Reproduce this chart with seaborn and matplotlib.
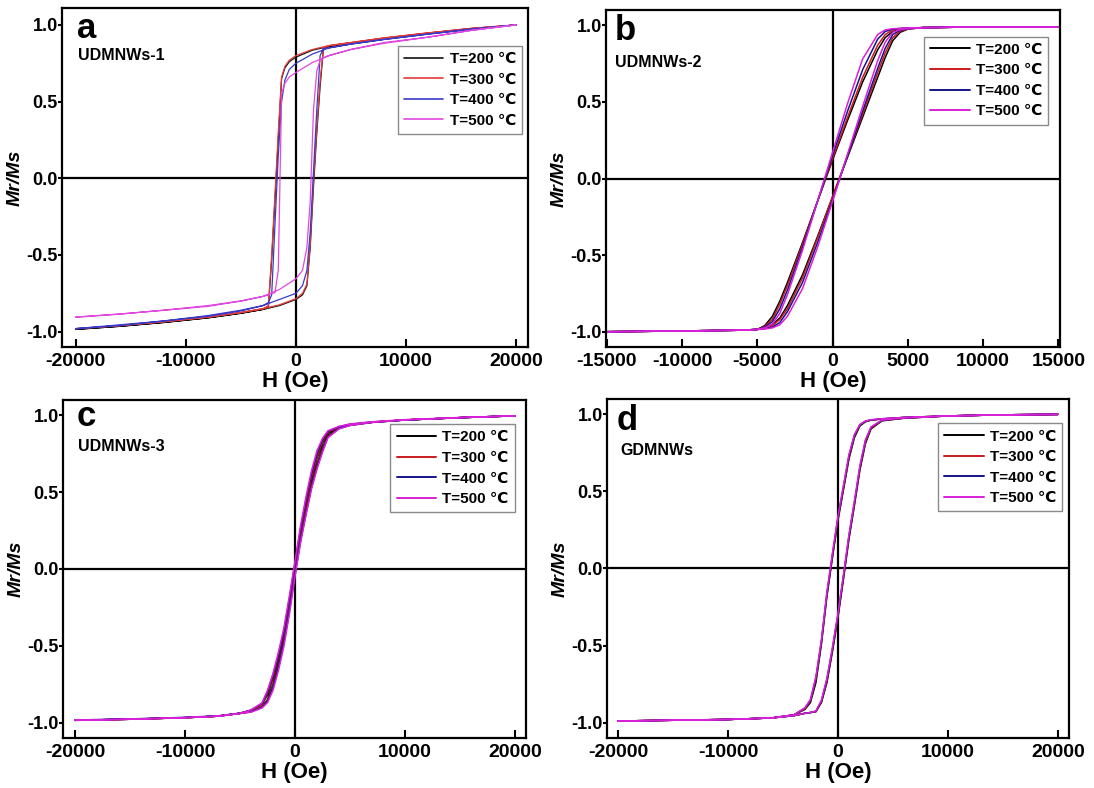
import numpy as np
import pandas as pd
import matplotlib
matplotlib.use("Agg")
import matplotlib.pyplot as plt
import seaborn as sns
from matplotlib.lines import Line2D

# ---------------- data ----------------
temps = ["T=200 ℃", "T=300 ℃", "T=400 ℃", "T=500 ℃"]

# panel a (UDMNWs-1)
H_a_desc = [20000, 16000, 12000, 8000, 5000, 3000, 1500, 0, -600, -1000, -1300,
            -1600, -1900, -2200, -2500, -3000, -5000, -8000, -12000, -16000, -20000]
H_a_asc = [-20000, -16000, -12000, -8000, -5000, -3000, -1500, 0, 600, 1000, 1300,
           1600, 1900, 2200, 2500, 3000, 5000, 8000, 12000, 16000, 20000]
a200_desc = [1.00, 0.975, 0.945, 0.91, 0.88, 0.86, 0.835, 0.79, 0.76, 0.72, 0.65,
             0.26, -0.14, -0.53, -0.84, -0.855, -0.88, -0.91, -0.94, -0.965, -0.985]
a300_desc = [1.00, 0.978, 0.948, 0.915, 0.885, 0.865, 0.84, 0.80, 0.77, 0.73, 0.66,
             0.30, -0.10, -0.50, -0.83, -0.85, -0.875, -0.905, -0.935, -0.96, -0.98]
a400_desc = [1.00, 0.975, 0.94, 0.905, 0.875, 0.85, 0.81, 0.75, 0.71, 0.64, 0.50,
             0.15, -0.30, -0.76, -0.81, -0.83, -0.86, -0.895, -0.93, -0.955, -0.98]
a500_desc = [1.00, 0.965, 0.92, 0.885, 0.84, 0.80, 0.755, 0.69, 0.66, 0.62, 0.55,
             -0.60, -0.745, -0.75, -0.76, -0.77, -0.80, -0.83, -0.86, -0.885, -0.905]
a200_asc = [-0.985, -0.965, -0.94, -0.91, -0.88, -0.855, -0.83, -0.79, -0.76, -0.70, -0.45,
            -0.05, 0.30, 0.60, 0.845, 0.86, 0.88, 0.91, 0.945, 0.975, 1.00]
a300_asc = [-0.98, -0.96, -0.935, -0.905, -0.875, -0.85, -0.825, -0.785, -0.75, -0.69, -0.43,
            -0.02, 0.33, 0.63, 0.85, 0.865, 0.885, 0.915, 0.948, 0.978, 1.00]
a400_asc = [-0.98, -0.96, -0.93, -0.90, -0.865, -0.83, -0.79, -0.75, -0.70, -0.60, -0.35,
            0.05, 0.45, 0.80, 0.845, 0.85, 0.875, 0.905, 0.94, 0.97, 1.00]
a500_asc = [-0.905, -0.885, -0.86, -0.835, -0.80, -0.77, -0.725, -0.655, -0.60, -0.45, -0.15,
            0.45, 0.70, 0.77, 0.785, 0.80, 0.84, 0.88, 0.92, 0.965, 1.00]

# panel b (UDMNWs-2)
H_b = [-15000, -10000, -6000, -5000, -4500, -4000, -3500, -3000, -2000, -1000, 0,
       1000, 2000, 3000, 3500, 4000, 4500, 5000, 6000, 10000, 15000]
b200_desc = [-1.0, -0.995, -0.99, -0.985, -0.96, -0.90, -0.80, -0.68, -0.42, -0.15, 0.12,
             0.38, 0.63, 0.84, 0.92, 0.96, 0.975, 0.98, 0.985, 0.99, 0.99]
b200_asc = [-1.0, -0.995, -0.99, -0.985, -0.975, -0.955, -0.91, -0.83, -0.63, -0.38, -0.12,
            0.14, 0.40, 0.66, 0.79, 0.90, 0.955, 0.975, 0.985, 0.99, 0.99]
b300_desc = [-1.0, -0.995, -0.99, -0.985, -0.965, -0.92, -0.82, -0.70, -0.43, -0.15, 0.13,
             0.40, 0.66, 0.87, 0.94, 0.97, 0.978, 0.982, 0.985, 0.99, 0.99]
b300_asc = [-1.0, -0.995, -0.99, -0.985, -0.978, -0.96, -0.92, -0.85, -0.65, -0.39, -0.12,
            0.15, 0.42, 0.69, 0.82, 0.92, 0.962, 0.977, 0.985, 0.99, 0.99]
b400_desc = [-1.0, -0.995, -0.99, -0.985, -0.97, -0.935, -0.85, -0.73, -0.45, -0.15, 0.15,
             0.44, 0.71, 0.91, 0.96, 0.975, 0.98, 0.982, 0.985, 0.99, 0.99]
b400_asc = [-1.0, -0.995, -0.99, -0.985, -0.98, -0.97, -0.94, -0.87, -0.68, -0.42, -0.14,
            0.15, 0.44, 0.72, 0.85, 0.94, 0.968, 0.978, 0.985, 0.99, 0.99]
b500_desc = [-1.0, -0.995, -0.99, -0.985, -0.975, -0.95, -0.88, -0.76, -0.47, -0.15, 0.17,
             0.49, 0.78, 0.94, 0.97, 0.978, 0.98, 0.983, 0.985, 0.99, 0.99]
b500_asc = [-1.0, -0.995, -0.99, -0.985, -0.982, -0.975, -0.955, -0.90, -0.72, -0.45, -0.15,
            0.16, 0.47, 0.77, 0.89, 0.955, 0.972, 0.978, 0.985, 0.99, 0.99]

# panel c (UDMNWs-3)
H_c = [-20000, -15000, -10000, -7000, -5000, -4000, -3000, -2500, -2000, -1500, -1000, -500, 0,
       500, 1000, 1500, 2000, 2500, 3000, 4000, 5000, 7000, 10000, 15000, 20000]
c200_desc = [-0.985, -0.978, -0.968, -0.958, -0.94, -0.92, -0.88, -0.82, -0.71, -0.58, -0.42, -0.21, 0.02,
             0.24, 0.42, 0.59, 0.72, 0.82, 0.885, 0.922, 0.94, 0.955, 0.97, 0.985, 0.997]
c200_asc = [-0.985, -0.978, -0.968, -0.958, -0.94, -0.928, -0.895, -0.85, -0.75, -0.62, -0.46, -0.25, -0.02,
            0.20, 0.38, 0.55, 0.68, 0.79, 0.87, 0.918, 0.936, 0.955, 0.97, 0.985, 0.997]
c300_desc = [-0.985, -0.978, -0.968, -0.958, -0.94, -0.92, -0.88, -0.81, -0.70, -0.57, -0.41, -0.20, 0.03,
             0.25, 0.43, 0.60, 0.73, 0.83, 0.89, 0.924, 0.94, 0.956, 0.97, 0.985, 0.997]
c300_asc = [-0.985, -0.978, -0.968, -0.958, -0.94, -0.928, -0.895, -0.855, -0.76, -0.63, -0.47, -0.26, -0.03,
            0.19, 0.37, 0.54, 0.67, 0.78, 0.865, 0.916, 0.936, 0.955, 0.97, 0.985, 0.997]
c400_desc = [-0.983, -0.976, -0.966, -0.956, -0.938, -0.918, -0.875, -0.80, -0.69, -0.56, -0.40, -0.19, 0.04,
             0.26, 0.45, 0.62, 0.75, 0.84, 0.895, 0.926, 0.942, 0.957, 0.97, 0.985, 0.997]
c400_asc = [-0.985, -0.978, -0.968, -0.958, -0.94, -0.93, -0.90, -0.86, -0.77, -0.64, -0.48, -0.27, -0.04,
            0.18, 0.36, 0.53, 0.66, 0.77, 0.86, 0.914, 0.935, 0.954, 0.97, 0.985, 0.997]
c500_desc = [-0.985, -0.978, -0.968, -0.958, -0.94, -0.918, -0.872, -0.79, -0.68, -0.54, -0.38, -0.17, 0.05,
             0.28, 0.47, 0.64, 0.77, 0.85, 0.90, 0.928, 0.944, 0.958, 0.972, 0.986, 0.997]
c500_asc = [-0.985, -0.978, -0.968, -0.958, -0.94, -0.932, -0.905, -0.87, -0.79, -0.66, -0.50, -0.29, -0.05,
            0.17, 0.35, 0.52, 0.65, 0.76, 0.855, 0.912, 0.934, 0.954, 0.97, 0.985, 0.997]

# panel d (GDMNWs)
H_d = [-20000, -15000, -10000, -6000, -4000, -3000, -2500, -2000, -1500, -1000, -500, 0,
       500, 1000, 1500, 2000, 2500, 3000, 4000, 6000, 10000, 15000, 20000]
d200_desc = [-0.99, -0.985, -0.98, -0.97, -0.95, -0.915, -0.87, -0.74, -0.49, -0.18, 0.07, 0.31,
             0.51, 0.71, 0.85, 0.925, 0.952, 0.962, 0.97, 0.98, 0.99, 0.997, 1.0]
d200_asc = [-0.99, -0.985, -0.98, -0.97, -0.955, -0.94, -0.935, -0.93, -0.87, -0.74, -0.54, -0.32,
            -0.07, 0.19, 0.41, 0.64, 0.81, 0.905, 0.958, 0.975, 0.99, 0.997, 1.0]
d300_desc = [-0.99, -0.985, -0.98, -0.97, -0.95, -0.91, -0.86, -0.72, -0.48, -0.17, 0.08, 0.32,
             0.52, 0.72, 0.86, 0.93, 0.955, 0.963, 0.97, 0.98, 0.99, 0.997, 1.0]
d300_asc = [-0.99, -0.985, -0.98, -0.97, -0.955, -0.94, -0.935, -0.928, -0.865, -0.73, -0.53, -0.31,
            -0.06, 0.20, 0.42, 0.65, 0.82, 0.91, 0.96, 0.975, 0.99, 0.997, 1.0]
d400_desc = [-0.99, -0.985, -0.98, -0.97, -0.95, -0.905, -0.855, -0.71, -0.47, -0.16, 0.09, 0.33,
             0.53, 0.73, 0.865, 0.932, 0.956, 0.964, 0.971, 0.98, 0.99, 0.997, 1.0]
d400_asc = [-0.99, -0.985, -0.98, -0.97, -0.955, -0.94, -0.935, -0.926, -0.86, -0.72, -0.52, -0.30,
            -0.05, 0.21, 0.43, 0.66, 0.83, 0.915, 0.962, 0.976, 0.99, 0.997, 1.0]
d500_desc = [-0.99, -0.985, -0.98, -0.97, -0.95, -0.905, -0.85, -0.70, -0.46, -0.15, 0.10, 0.34,
             0.54, 0.74, 0.87, 0.935, 0.957, 0.965, 0.972, 0.98, 0.99, 0.997, 1.0]
d500_asc = [-0.99, -0.985, -0.98, -0.97, -0.955, -0.94, -0.935, -0.925, -0.855, -0.71, -0.51, -0.29,
            -0.04, 0.22, 0.44, 0.67, 0.835, 0.918, 0.963, 0.977, 0.99, 0.997, 1.0]

xticks_20k = [-20000, -10000, 0, 10000, 20000]
xticks_15k = [-15000, -10000, -5000, 0, 5000, 10000, 15000]
yticks = [-1.0, -0.5, 0.0, 0.5, 1.0]
ytick_labels = ["-1.0", "-0.5", "0.0", "0.5", "1.0"]

# ---------------- style ----------------
sns.set_theme(style="ticks")
plt.rcParams["font.family"] = ["Liberation Sans", "DejaVu Sans"]
plt.rcParams["font.weight"] = "bold"
plt.rcParams["axes.labelweight"] = "bold"
plt.rcParams["axes.unicode_minus"] = False
for k in ["text.color", "axes.labelcolor", "xtick.color", "ytick.color", "axes.edgecolor"]:
    plt.rcParams[k] = "black"

colors_a = ["#111111", "#e23a36", "#3a3ac8", "#e048e0"]
colors_bcd = ["#000000", "#cc1a1a", "#14148a", "#d820d8"]

fig = plt.figure(figsize=(10.94, 7.88), dpi=100)

panels = [
    dict(rect=[0.0567, 0.5596, 0.4260, 0.4302], letter="a", name="UDMNWs-1",
         Hd=H_a_desc, Ha=H_a_asc,
         desc=[a200_desc, a300_desc, a400_desc, a500_desc],
         asc=[a200_asc, a300_asc, a400_asc, a500_asc],
         xlim=(-21245, 21090), ylim=(-1.1, 1.11), xticks=xticks_20k,
         colors=colors_a, lw=0.9, leg=(0.987, 0.888), lx=0.032, ly=0.912, ny=0.848, nx=0.034),
    dict(rect=[0.5539, 0.5596, 0.4150, 0.4277], letter="b", name="UDMNWs-2",
         Hd=H_b, Ha=H_b,
         desc=[b200_desc, b300_desc, b400_desc, b500_desc],
         asc=[b200_asc, b300_asc, b400_asc, b500_asc],
         xlim=(-15050, 15110), ylim=(-1.1, 1.1), xticks=xticks_15k,
         colors=colors_bcd, lw=1.1, leg=(0.974, 0.921), lx=0.02, ly=0.912, ny=0.832, nx=0.02),
    dict(rect=[0.0576, 0.0635, 0.4232, 0.4289], letter="c", name="UDMNWs-3",
         Hd=H_c, Ha=H_c,
         desc=[c200_desc, c300_desc, c400_desc, c500_desc],
         asc=[c200_asc, c300_asc, c400_asc, c500_asc],
         xlim=(-21090, 21000), ylim=(-1.1, 1.1), xticks=xticks_20k,
         colors=colors_bcd, lw=1.1, leg=(0.976, 0.928), lx=0.030, ly=0.922, ny=0.849, nx=0.032),
    dict(rect=[0.5548, 0.0635, 0.4223, 0.4302], letter="d", name="GDMNWs",
         Hd=H_d, Ha=H_d,
         desc=[d200_desc, d300_desc, d400_desc, d500_desc],
         asc=[d200_asc, d300_asc, d400_asc, d500_asc],
         xlim=(-21000, 21000), ylim=(-1.1, 1.1), xticks=xticks_20k,
         colors=colors_bcd, lw=1.1, leg=(0.986, 0.928), lx=0.022, ly=0.908, ny=0.835, nx=0.028),
]

for p in panels:
    ax = fig.add_axes(p["rect"])
    ax.axhline(0, color="black", lw=1.6, zorder=1)
    ax.axvline(0, color="black", lw=1.6, zorder=1)
    Hd = np.asarray(p["Hd"], dtype=float)
    Ha = np.asarray(p["Ha"], dtype=float)
    # descending branch goes from +H to -H, ascending from -H to +H
    order_d = np.argsort(-Hd, kind="stable")
    order_a = np.argsort(Ha, kind="stable")
    for c, md, ma in zip(p["colors"], p["desc"], p["asc"]):
        md = np.asarray(md, dtype=float)
        ma = np.asarray(ma, dtype=float)
        df = pd.DataFrame({
            "H": np.concatenate([Hd[order_d], Ha[order_a]]),
            "M": np.concatenate([md[order_d], ma[order_a]]),
        })
        sns.lineplot(data=df, x="H", y="M", sort=False, estimator=None,
                     color=c, lw=p["lw"], ax=ax, zorder=2)
    ax.set_xlim(*p["xlim"])
    ax.set_ylim(*p["ylim"])
    ax.set_xticks(p["xticks"])
    ax.set_xticklabels([str(v) for v in p["xticks"]])
    ax.set_yticks(yticks)
    ax.set_yticklabels(ytick_labels)
    ax.tick_params(axis="x", direction="in", length=6, width=1.5, labelsize=14, pad=4)
    ax.tick_params(axis="y", direction="out", length=3, width=1.5, labelsize=13, pad=0)
    for lab in ax.get_xticklabels() + ax.get_yticklabels():
        lab.set_fontweight("bold")
    for s in ax.spines.values():
        s.set_linewidth(1.6)
        s.set_color("black")
    ax.set_xlabel("H (Oe)", fontsize=16, fontweight="bold", labelpad=1)
    ax.set_ylabel("Mr/Ms", fontsize=14, fontweight="bold", fontstyle="italic", labelpad=2)
    ax.text(p["lx"], p["ly"], p["letter"], transform=ax.transAxes, fontsize=25,
            fontweight="bold", va="baseline", ha="left")
    ax.text(p["nx"], p["ny"], p["name"], transform=ax.transAxes, fontsize=11.5,
            fontweight="bold", va="baseline", ha="left")
    handles = [Line2D([0], [0], color=c, lw=p["lw"] + 0.3) for c in p["colors"]]
    leg = ax.legend(handles, temps, loc="upper right", bbox_to_anchor=p["leg"],
                    borderaxespad=0, frameon=True, fancybox=False, framealpha=1,
                    edgecolor="#8a8a8a", prop={"weight": "bold", "size": 11},
                    handlelength=2.6, handletextpad=0.4, labelspacing=0.43, borderpad=0.4)
    leg.get_frame().set_linewidth(1.0)

fig.savefig("out.png", dpi=100)
